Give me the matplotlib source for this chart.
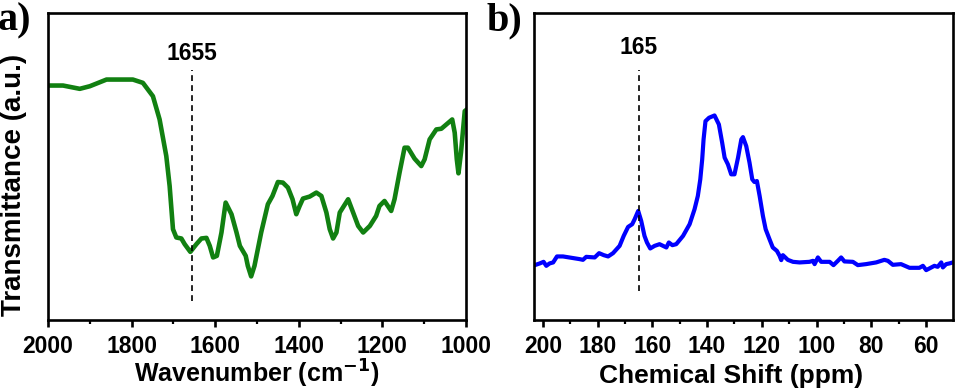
import matplotlib
matplotlib.use("Agg")
import matplotlib.pyplot as plt
from matplotlib.ticker import MultipleLocator, NullLocator

# ---- data (y in arbitrary units) ----
ir_wavenumber = [2000, 1964, 1924, 1900, 1860, 1797, 1773, 1749, 1733, 1717, 1709, 1701,
                 1693, 1681, 1673, 1659.5, 1645, 1633, 1621, 1613, 1605, 1596, 1585, 1575,
                 1561, 1549, 1541, 1527, 1522, 1514, 1506, 1490, 1474, 1463, 1450, 1438,
                 1426, 1415, 1406, 1398, 1390, 1374, 1358, 1346, 1334, 1326, 1318, 1310,
                 1302, 1282, 1270, 1258, 1246, 1230, 1215, 1207, 1195, 1187, 1179, 1171,
                 1159, 1147, 1139, 1123, 1107, 1099, 1087, 1071, 1059, 1047, 1033, 1027,
                 1022, 1018, 1012, 1003, 1001]
ir_transmittance = [235, 235, 231.7, 234.3, 241, 241, 237.7, 224.3, 201, 164.3, 134.3, 91,
                    82.7, 81.7, 76, 68.3, 76, 81.7, 82.3, 74.3, 62.7, 64.3, 87.7, 117.7,
                    106, 87.7, 74.3, 64.3, 54.3, 43.7, 54.3, 87.7, 116, 124.3, 138.3, 137.7,
                    132.7, 121, 106, 114.3, 121.7, 123.7, 127.7, 124.3, 107.7, 91, 81.7, 87.7,
                    107.7, 121, 107.7, 94.3, 87.7, 94.3, 104.3, 114.3, 119.3, 114.3, 109.3, 121,
                    147.7, 172.7, 172.7, 161.7, 154.3, 161, 181, 191, 191.7, 196, 201, 187.7,
                    161, 147, 167.7, 209.3, 210]

nmr_shift = [203.0, 201.2, 199.8, 198.8, 197.6, 196.3, 194.9, 192.7, 186.6, 185.4, 184.2,
             181.1, 179.5, 177.8, 176.2, 174.4, 172.0, 170.5, 168.9, 167.4, 166.5, 165.2,
             164.1, 162.9, 162.0, 160.8, 159.2, 157.4, 154.9, 154.0, 152.7, 151.3, 148.8,
             146.4, 144.6, 143.4, 142.5, 141.8, 141.3, 140.6, 139.3, 137.3, 135.7, 134.5,
             133.6, 132.4, 131.2, 130.0, 128.7, 127.5, 126.9, 125.7, 124.5, 123.5, 122.7,
             121.8, 120.8, 119.6, 118.6, 117.2, 116.0, 114.5, 113.5, 112.9, 112.3, 110.5,
             108.6, 106.2, 102.6, 101.3, 100.7, 99.5, 98.3, 95.2, 93.8, 92.2, 91.0, 89.8,
             86.7, 84.9, 81.9, 78.2, 75.2, 73.9, 72.1, 69.1, 66.0, 62.4, 61.1, 59.9, 58.7,
             56.9, 55.7, 54.4, 53.8, 52.6, 51.4, 50.2]
nmr_intensity = [55, 56.7, 58.3, 54.3, 56.7, 57.7, 63.7, 63.7, 61, 60.3, 63.3,
                 62.7, 67, 65, 63.7, 67, 74.3, 84.3, 93.3, 96, 101, 109.3,
                 99.3, 84.3, 77.7, 71.7, 74.3, 76, 72.7, 77.7, 75, 76, 84.3,
                 96, 111, 124.3, 141, 161, 181, 199.3, 202.7, 205, 196, 177.7,
                 162.7, 156, 146, 146, 162.7, 181, 183.3, 174.3, 157.7, 141, 138.3,
                 139.3, 124.3, 104.3, 91, 81, 72.7, 69.3, 64.3, 60, 65, 60.3,
                 58.3, 57.7, 58.3, 59.3, 56, 62.7, 58.3, 58.3, 55, 59.3, 62.7, 58.7,
                 58.3, 55, 56, 57.7, 60.3, 59.3, 55.3, 56, 52.3, 52.3, 54.3, 50, 51.7,
                 54.3, 53.3, 57.7, 52.7, 56, 56.7, 57.7]

ir_mark = 1655
nmr_mark = 165
ir_mark_label = "1655"
nmr_mark_label = "165"

plt.rcParams['font.family'] = ['Liberation Sans', 'DejaVu Sans']
plt.rcParams['font.weight'] = 'bold'
plt.rcParams['axes.labelweight'] = 'bold'
plt.rcParams['mathtext.default'] = 'bf'

W, H = 956, 391
fig = plt.figure(figsize=(W / 100, H / 100), dpi=100)

def frac(x0, y0, x1, y1):
    return [x0 / W, 1 - y1 / H, (x1 - x0) / W, (y1 - y0) / H]

ax1 = fig.add_axes(frac(48, 13, 466, 320))
ax2 = fig.add_axes(frac(534, 13, 953, 320))

fs = 16.5
for ax in (ax1, ax2):
    for sp in ax.spines.values():
        sp.set_linewidth(1.9)
    ax.tick_params(axis='x', which='major', direction='out', length=5, width=1.9,
                   labelsize=fs, pad=6)
    ax.tick_params(axis='x', which='minor', direction='out', length=3, width=1.6)
    ax.yaxis.set_major_locator(NullLocator())
    ax.yaxis.set_minor_locator(NullLocator())
    ax.set_ylim(0, 307.7)

# Panel a
ax1.plot(ir_wavenumber, ir_transmittance, color='#118011', lw=3.3, solid_joinstyle='round')
ax1.set_xlim(2000, 1000)
ax1.xaxis.set_major_locator(MultipleLocator(200))
ax1.xaxis.set_minor_locator(MultipleLocator(100))
ax1.plot([ir_mark, ir_mark], [19.3, 251], color='black', lw=1.2, ls=(0, (3.5, 2.5)))
ax1.text(ir_mark, 261, ir_mark_label, ha='center', va='baseline', fontsize=fs, fontweight='bold')
ax1.set_xlabel('Wavenumber (cm$^{-1}$)', fontsize=18, fontweight='bold')
ax1.xaxis.set_label_coords(0.5, (320 - 383) / 307)
ax1.xaxis.label.set_verticalalignment('baseline')
ax1.set_ylabel('Transmittance (a.u.)', fontsize=20, fontweight='bold')
ax1.yaxis.set_label_coords(-0.050, 0.441)

# Panel b
ax2.plot(nmr_shift, nmr_intensity, color='#0000ff', lw=3.0, solid_joinstyle='round')
ax2.set_xlim(203.3, 50.1)
ax2.xaxis.set_major_locator(MultipleLocator(20))
ax2.xaxis.set_minor_locator(MultipleLocator(10))
ax2.plot([nmr_mark, nmr_mark], [29.3, 251], color='black', lw=1.2, ls=(0, (3.5, 2.5)))
ax2.text(nmr_mark, 266.7, nmr_mark_label, ha='center', va='baseline', fontsize=fs, fontweight='bold')
ax2.set_xlabel('Chemical Shift (ppm)', fontsize=19, fontweight='bold')
ax2.xaxis.set_label_coords((731 - 534) / 419, (320 - 383) / 307)
ax2.xaxis.label.set_verticalalignment('baseline')

fig.text(-0.002, 1 - 2 / H, 'a)', family=['Liberation Serif', 'DejaVu Serif'],
         fontsize=29, fontweight='bold', ha='left', va='top')
fig.text(487 / W, 1 - 2 / H, 'b)', family=['Liberation Serif', 'DejaVu Serif'],
         fontsize=29, fontweight='bold', ha='left', va='top')

fig.savefig('out.png', dpi=100)
